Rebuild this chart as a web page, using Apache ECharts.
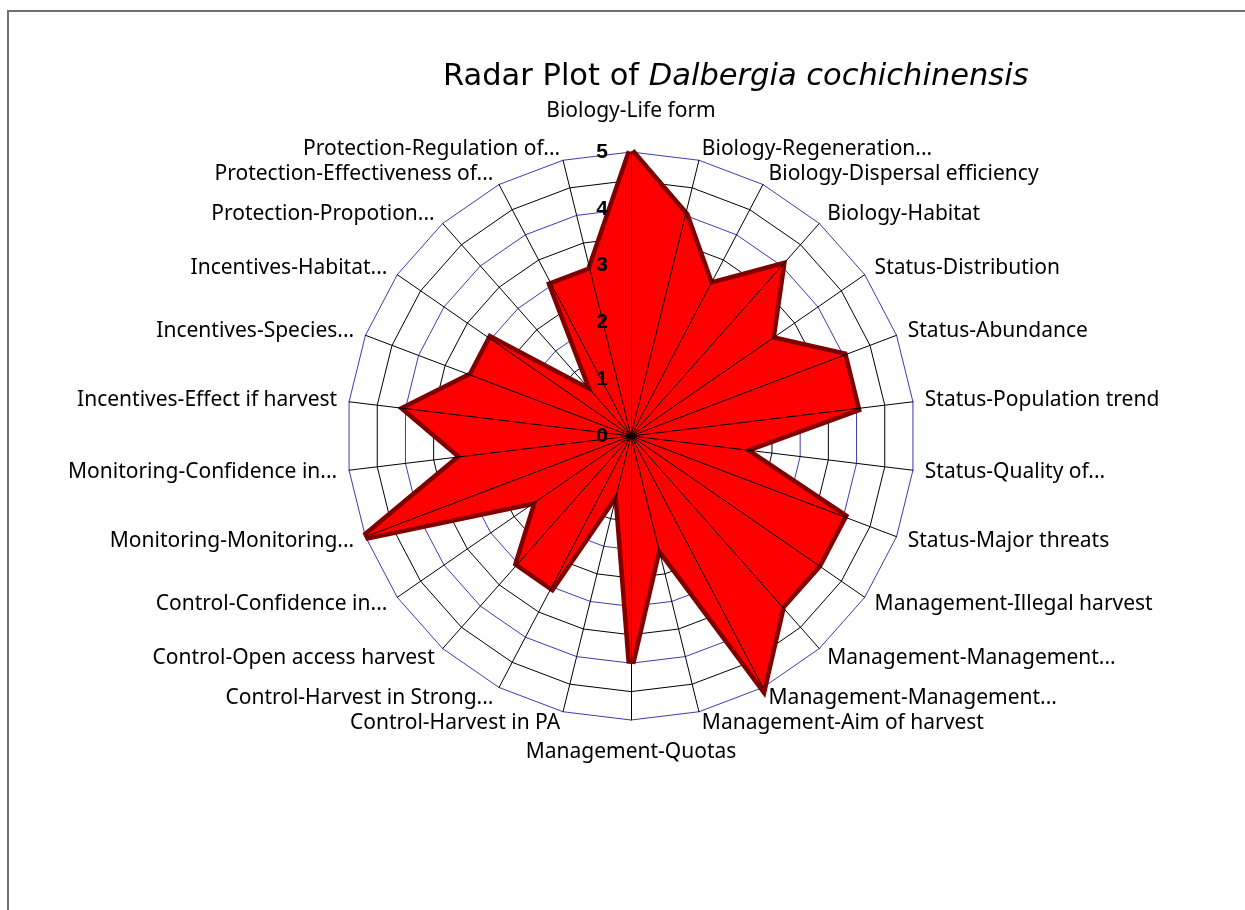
<!DOCTYPE html>
<html>
<head>
<meta charset="utf-8">
<title>Radar Plot</title>
<script src="https://cdn.jsdelivr.net/npm/echarts@6/dist/echarts.min.js"></script>
<style>
  html, body { margin: 0; padding: 0; background: #fff; }
  #chart { width: 1245px; height: 910px; }
</style>
</head>
<body>
<div id="chart"></div>
<script>
// criteria, clockwise from the top (as in the original spreadsheet)
var criteria = [
  'Biology-Life form',
  'Biology-Regeneration...',
  'Biology-Dispersal efficiency',
  'Biology-Habitat',
  'Status-Distribution',
  'Status-Abundance',
  'Status-Population trend',
  'Status-Quality of...',
  'Status-Major threats',
  'Management-Illegal harvest',
  'Management-Management...',
  'Management-Management...',
  'Management-Aim of harvest',
  'Management-Quotas',
  'Control-Harvest in PA',
  'Control-Harvest in Strong...',
  'Control-Open access harvest',
  'Control-Confidence in...',
  'Monitoring-Monitoring...',
  'Monitoring-Confidence in...',
  'Incentives-Effect if harvest',
  'Incentives-Species...',
  'Incentives-Habitat...',
  'Protection-Propotion...',
  'Protection-Effectiveness of...',
  'Protection-Regulation of...'
];
var scores = [5, 4, 3, 4, 3, 4, 4, 2, 4, 4, 4, 5, 2, 4, 1, 3, 3, 2, 5, 3, 4, 3, 3, 1, 3, 3];
var scoreMin = 0;
var scoreMax = 5;
var scoreStep = 0.5;

var chart = echarts.init(document.getElementById('chart'));

// echarts goes counter-clockwise, so keep the first one and flip the rest
var order = [0];
for (var i = criteria.length - 1; i > 0; i--) order.push(i);

var center = [631, 436];
var radius = 284;
var labelFont = '"Noto Sans", "Open Sans", sans-serif';
var titleFont = '"DejaVu Sans", "Noto Sans", sans-serif';

var baseIndicators = order.map(function (k) {
  var ind = { name: criteria[k], min: scoreMin, max: scoreMax };
  if (k === 0) ind.nameGap = 30;
  if (k === 13) ind.nameGap = 22;
  return ind;
});
// top layer: spokes + score labels drawn over the red area
var topIndicators = order.map(function (k) {
  var ind = { name: '', min: scoreMin, max: scoreMax };
  if (k === 0) {
    ind.axisLabel = { show: true };
  }
  return ind;
});

var option = {
  backgroundColor: '#fff',
  animation: false,
  title: {
    text: '{n|Radar Plot of }{i|Dalbergia cochichinensis}',
    left: 438,
    top: 57,
    textStyle: {
      rich: {
        n: { fontFamily: titleFont, fontSize: 30.5, fontWeight: 'normal', color: '#000' },
        i: { fontFamily: titleFont, fontSize: 30.5, fontWeight: 'normal', fontStyle: 'italic', color: '#000' }
      }
    }
  },
  graphic: [{
    type: 'rect',
    silent: true,
    shape: { x: 8, y: 11, width: 1400, height: 1000 },
    style: { fill: 'none', stroke: '#707070', lineWidth: 2 }
  }],
  radar: [{
    center: center,
    radius: radius,
    shape: 'polygon',
    splitNumber: (scoreMax - scoreMin) / scoreStep,
    indicator: baseIndicators,
    nameGap: 12,
    axisName: {
      color: '#000',
      fontFamily: labelFont,
      fontSize: 21
    },
    axisLine: { show: false },
    axisTick: { show: false },
    axisLabel: { show: false },
    splitArea: { show: false },
    splitLine: {
      lineStyle: { color: ['#3c3cb4', '#000'], width: 1 }
    }
  }, {
    center: center,
    radius: radius,
    shape: 'polygon',
    z: 5,
    splitNumber: (scoreMax - scoreMin) / scoreStep,
    indicator: topIndicators,
    axisName: { show: false },
    axisLine: { show: true, lineStyle: { color: '#000', width: 1 } },
    axisTick: { show: false },
    axisLabel: {
      show: false,
      margin: 23,
      color: '#000',
      fontWeight: 'bold',
      fontFamily: '"Liberation Sans", Arial, sans-serif',
      fontSize: 21,
      formatter: function (v) {
        return Number.isInteger(v) ? String(v) : '';
      }
    },
    splitArea: { show: false },
    splitLine: { show: false }
  }],
  series: [{
    type: 'radar',
    radarIndex: 0,
    symbol: 'none',
    // the fill covers the inner half of the outline
    lineStyle: { color: '#800000', width: 9, join: 'miter', miterLimit: 3 },
    areaStyle: { color: '#ff0000', opacity: 1 },
    data: [{
      name: 'Dalbergia cochichinensis',
      value: order.map(function (k) { return scores[k]; })
    }]
  }]
};
chart.setOption(option);
</script>
</body>
</html>
